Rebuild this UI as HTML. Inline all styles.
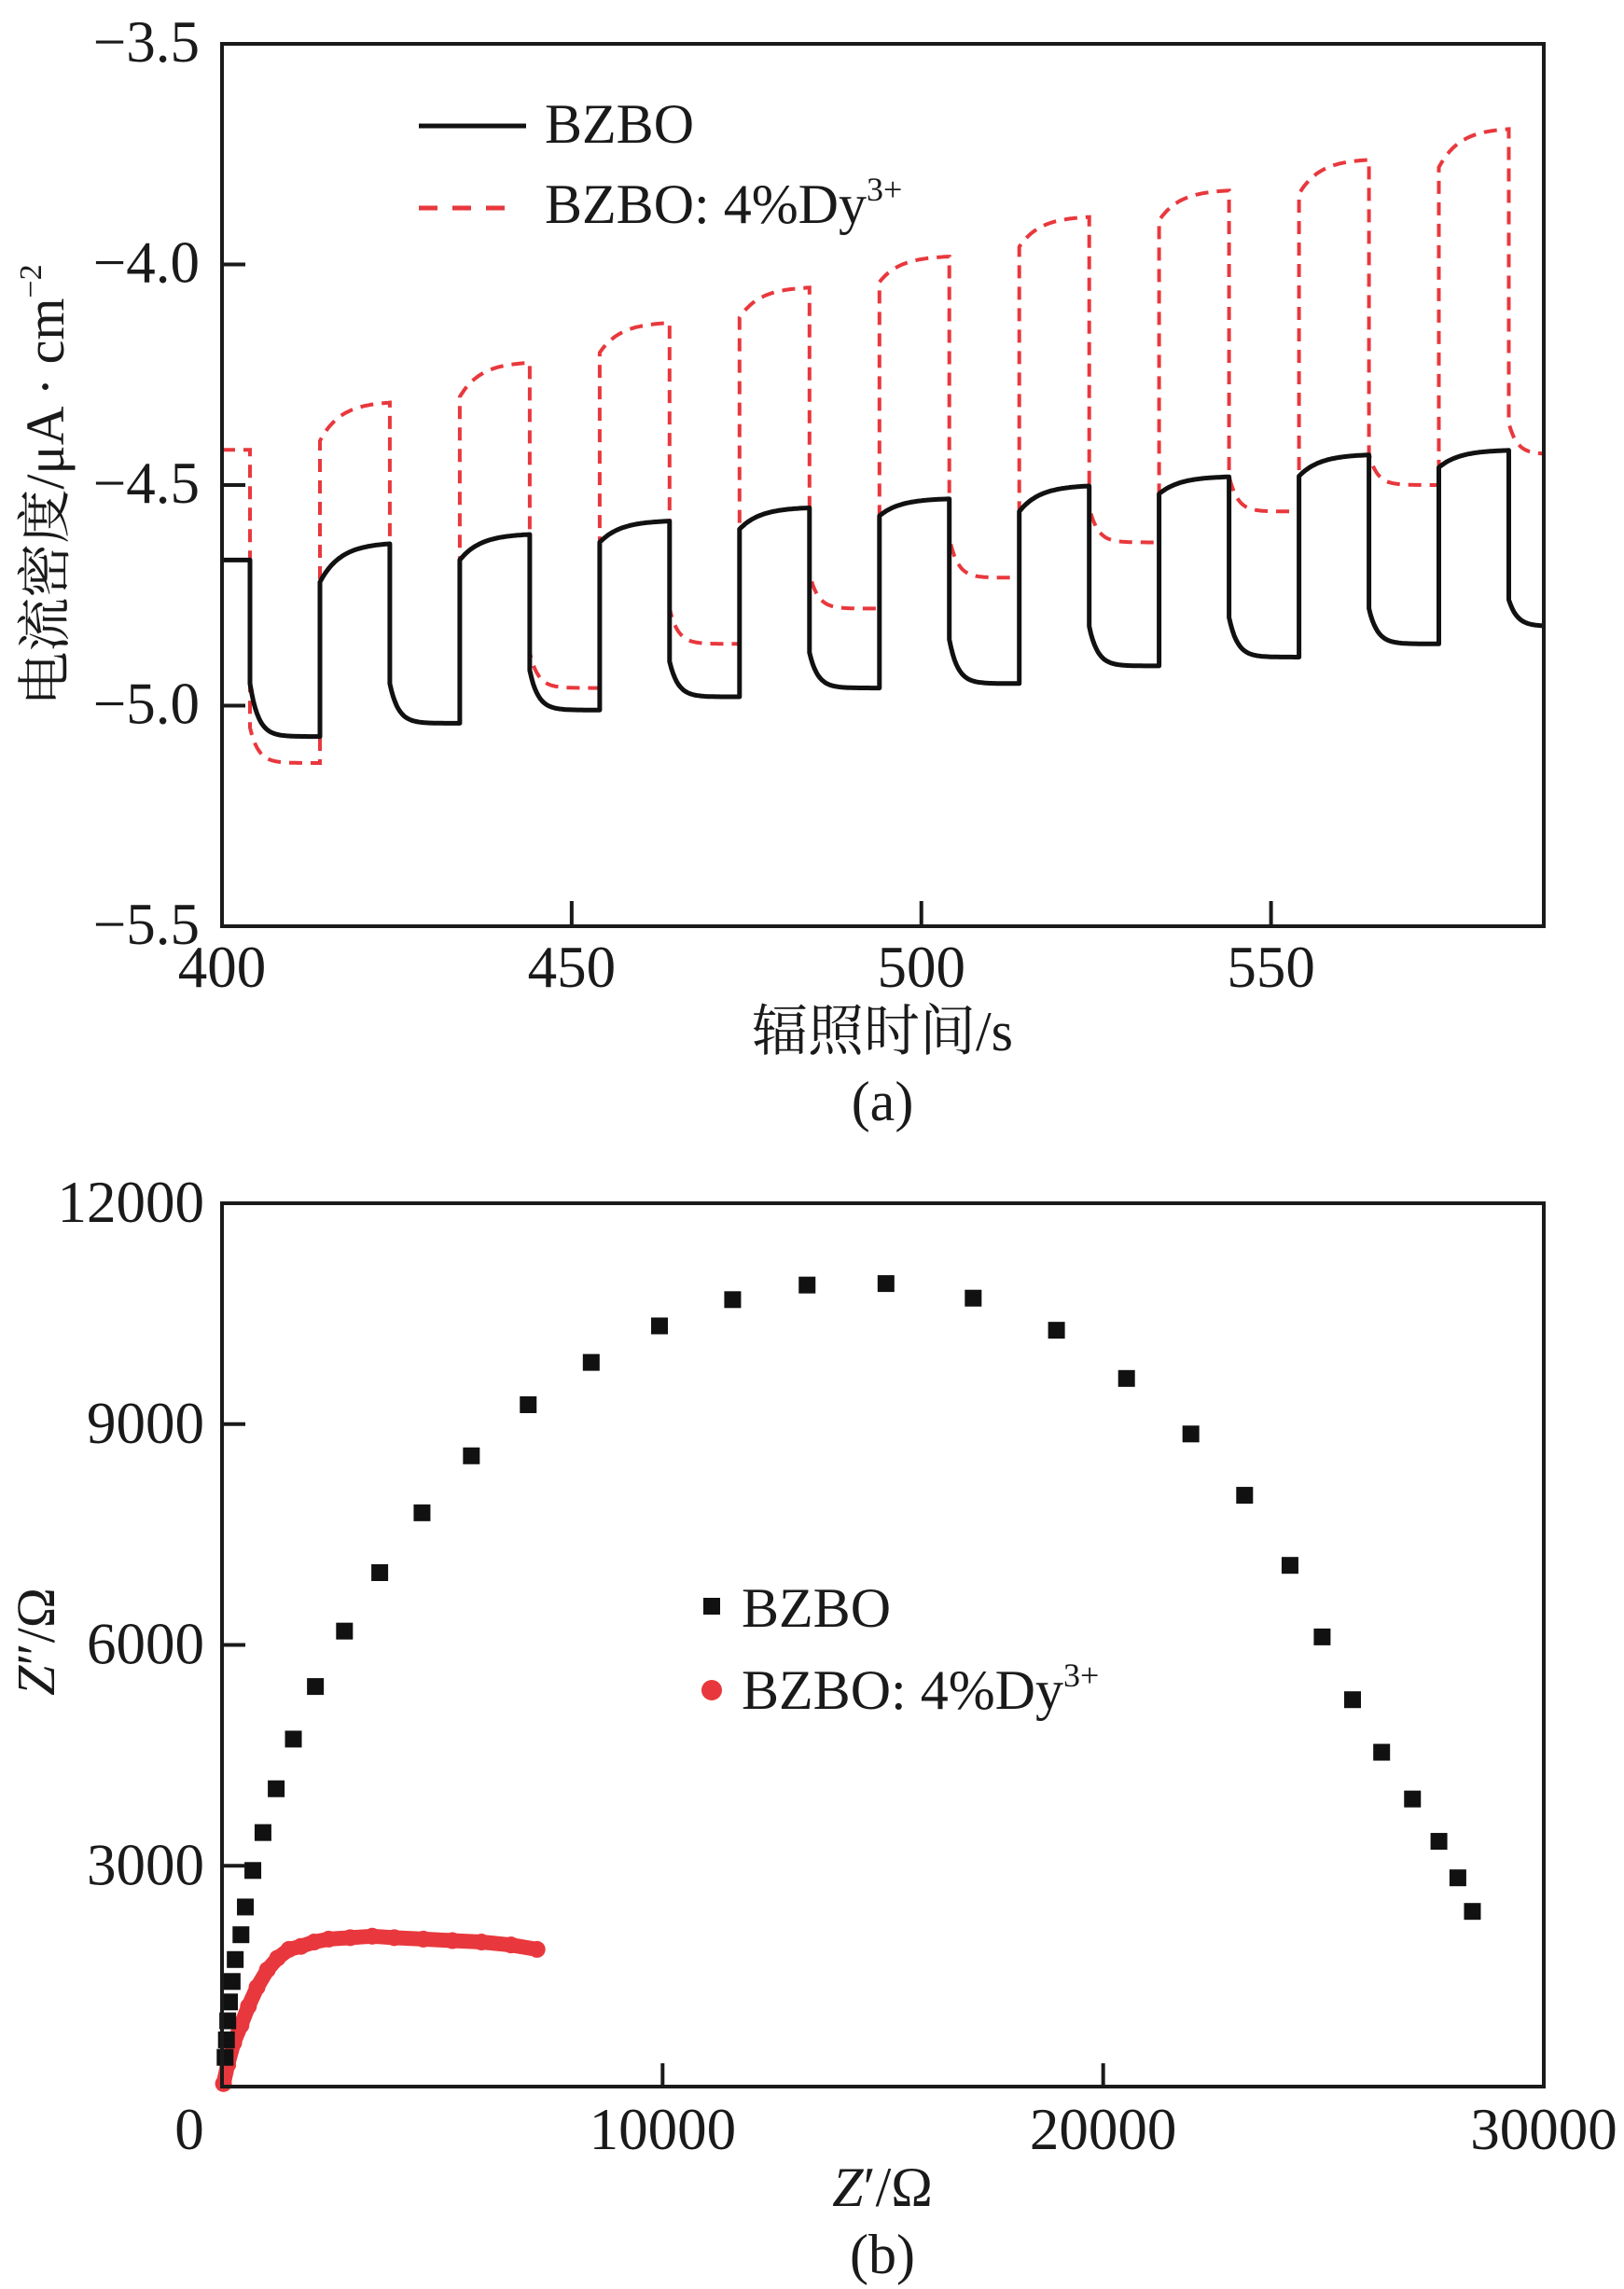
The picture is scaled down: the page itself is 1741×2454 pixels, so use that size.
<!DOCTYPE html>
<html><head><meta charset="utf-8">
<style>
html,body{margin:0;padding:0;background:#fff;}
svg{display:block;}
text{font-family:"Liberation Serif","Noto Serif CJK SC","Noto Sans CJK SC",serif;fill:#1a1a1a;}
</style></head>
<body>
<svg id="fig" width="1741" height="2454" viewBox="0 0 1741 2454" xmlns="http://www.w3.org/2000/svg">
  <rect width="1741" height="2454" fill="#fff"/>
  <g id="panelA"></g>
  <g id="panelB"></g>
</svg>
<script>
// ---------- Panel (a) data ----------
const aSwitchTimes = [404,414,424,434,444,454,464,474,484,494,504,514,524,534,544,554,564,574,584];
const aXTicks = [400,450,500,550];
const aYTicks = [-3.5,-4.0,-4.5,-5.0,-5.5];
const aYTickLabels = ["\u22123.5","\u22124.0","\u22124.5","\u22125.0","\u22125.5"];
// per segment: value right after switch, value at end of segment
const blackJump = [-4.67,-4.95,-4.72,-4.95,-4.67,-4.92,-4.63,-4.90,-4.60,-4.88,-4.57,-4.85,-4.56,-4.82,-4.52,-4.80,-4.48,-4.78,-4.46,-4.76];
const blackEnd  = [-4.67,-5.07,-4.63,-5.04,-4.61,-5.01,-4.58,-4.98,-4.55,-4.96,-4.53,-4.95,-4.50,-4.91,-4.48,-4.89,-4.43,-4.86,-4.42,-4.82];
const redJump = [-4.42,-5.05,-4.40,-4.95,-4.30,-4.88,-4.20,-4.78,-4.12,-4.70,-4.04,-4.62,-3.96,-4.55,-3.90,-4.48,-3.84,-4.43,-3.78,-4.36];
const redEnd  = [-4.42,-5.13,-4.31,-5.04,-4.22,-4.96,-4.13,-4.86,-4.05,-4.78,-3.98,-4.71,-3.89,-4.63,-3.83,-4.56,-3.76,-4.50,-3.69,-4.43];

// ---------- Panel (b) data ----------
const bzboZre = [70,100,130,170,230,300,430,530,700,930,1230,1620,2120,2780,3580,4540,5660,6950,8380,9930,11590,13280,15070,17050,18940,20530,21990,23210,24240,24970,25660,26320,27020,27620,28050,28380];
const bzboZim = [397,635,893,1150,1428,1726,2063,2440,2936,3451,4046,4721,5435,6188,6982,7795,8569,9263,9838,10334,10691,10889,10909,10711,10275,9620,8866,8033,7081,6109,5256,4542,3907,3332,2836,2380];
const dyZre = [33,130,265,430,600,795,1030,1260,1520,1790,2090,2420,2910,3410,3910,4570,5230,5890,6560,7150];
const dyZim = [40,298,595,833,1091,1349,1587,1745,1864,1904,1964,2003,2023,2043,2023,2003,1983,1964,1924,1864];
const bXTicks = [0,10000,20000,30000];
const bXTickLabels = ["0","10000","20000","30000"];
const bYTicks = [3000,6000,9000,12000];
const bYTickLabels = ["3000","6000","9000","12000"];

const NS = "http://www.w3.org/2000/svg";
function mk(tag, attrs, parent){
  const e = document.createElementNS(NS, tag);
  for (const k in attrs) e.setAttribute(k, attrs[k]);
  parent.appendChild(e);
  return e;
}

// ===== Panel A =====
const A = document.getElementById('panelA');
const aL=238, aR=1655, aT=47, aB=993;
const ax = t => aL + (t-400)/189*(aR-aL);
const ay = v => aT + (-3.5 - v)/2*(aB-aT);

function seriesPoints(jump, end){
  const bounds = [400].concat(aSwitchTimes).concat([589]);
  let pts = [];
  for (let s=0; s<jump.length; s++){
    const t0 = bounds[s], t1 = bounds[s+1];
    const dark = (s%2===1);
    const tau = dark ? 1.2 : 3.0;
    for (let t=t0; t<=t1+1e-6; t+=0.25){
      const v = end[s] + (jump[s]-end[s])*Math.exp(-(t-t0)/tau);
      pts.push(ax(t).toFixed(1)+","+ay(v).toFixed(1));
    }
  }
  return pts.join(" ");
}

const redLine = mk('polyline',{points:seriesPoints(redJump, redEnd),fill:'none',stroke:'#e8383d','stroke-width':4,'stroke-dasharray':'14 9'},A);


const blackLine = mk('polyline',{points:seriesPoints(blackJump, blackEnd),fill:'none',stroke:'#111','stroke-width':5,'stroke-linejoin':'round'},A);



const frameA = mk('rect',{x:aL,y:aT,width:aR-aL,height:aB-aT,fill:'none',stroke:'#1a1a1a','stroke-width':4},A);



aXTicks.forEach(t=>{
  if (t>400){
    const tk = mk('line',{x1:ax(t),x2:ax(t),y1:aB,y2:aB-27,stroke:'#1a1a1a','stroke-width':4},A);
    
    
  }
  const lb = mk('text',{x:ax(t),y:1058,'font-size':63,'text-anchor':'middle'},A);
  lb.textContent = String(t);
  
  
});
aYTicks.forEach((v,i)=>{
  if (i>0 && i<aYTicks.length-1){
    const tk = mk('line',{x1:aL,x2:aL+25,y1:ay(v),y2:ay(v),stroke:'#1a1a1a','stroke-width':4},A);
    
    
  }
  const lb = mk('text',{x:214,y:ay(v)+19,'font-size':63,'text-anchor':'end'},A);
  lb.textContent = aYTickLabels[i];
  
  
});

// legend a
let e;
e = mk('line',{x1:449,x2:564,y1:135,y2:135,stroke:'#111','stroke-width':5},A);


e = mk('text',{x:584,y:153,'font-size':60},A);
e.textContent='BZBO';


e = mk('line',{x1:449,x2:545,y1:223,y2:223,stroke:'#e8383d','stroke-width':5,'stroke-dasharray':'20 16'},A);


e = mk('text',{x:584,y:239,'font-size':60},A);
e.innerHTML='BZBO: 4%Dy<tspan font-size="36" dy="-24">3+</tspan>';



// axis titles a
e = mk('text',{x:946,y:1126,'font-size':60,'text-anchor':'middle'},A);
e.textContent='辐照时间/s';


e = mk('text',{x:946,y:1201,'font-size':60,'text-anchor':'middle'},A);
e.textContent='(a)';


e = mk('text',{x:0,y:0,'font-size':58,'text-anchor':'middle',transform:'translate(68,520) rotate(-90)'},A);
e.innerHTML='电流密度/μA · cm<tspan font-size="34" dy="-24">−2</tspan>';



// ===== Panel B =====
const B = document.getElementById('panelB');
const bL=238, bR=1655, bT=1290, bB=2237;
const bx = z => bL + z/30000*(bR-bL);
const by = z => bB - z/12000*(bB-bT);

const dyPts = dyZre.map((z,i)=>bx(z).toFixed(1)+","+by(dyZim[i]).toFixed(1)).join(" ");
e = mk('polyline',{points:dyPts,fill:'none',stroke:'#e8383d','stroke-width':16,'stroke-linejoin':'round','stroke-linecap':'round'},B);


dyZre.forEach((z,i)=>{
  const c = mk('circle',{cx:bx(z),cy:by(dyZim[i]),r:9,fill:'#e8383d'},B);
  
  
});
bzboZre.forEach((z,i)=>{
  const s = mk('rect',{x:bx(z)-9,y:by(bzboZim[i])-9,width:18,height:18,fill:'#111'},B);
  
  
});

const frameB = mk('rect',{x:bL,y:bT,width:bR-bL,height:bB-bT,fill:'none',stroke:'#1a1a1a','stroke-width':4},B);



bXTicks.forEach((z,i)=>{
  if (i>0 && i<bXTicks.length-1){
    const tk = mk('line',{x1:bx(z),x2:bx(z),y1:bB,y2:bB-25,stroke:'#1a1a1a','stroke-width':4},B);
    
    
  }
  const xx = i===0 ? 203 : bx(z);
  const lb = mk('text',{x:xx,y:2304,'font-size':63,'text-anchor':'middle'},B);
  lb.textContent = bXTickLabels[i];
  
  
});
bYTicks.forEach((z,i)=>{
  if (i<bYTicks.length-1){
    const tk = mk('line',{x1:bL,x2:bL+25,y1:by(z),y2:by(z),stroke:'#1a1a1a','stroke-width':4},B);
    
    
  }
  const lb = mk('text',{x:219,y:by(z)+20,'font-size':63,'text-anchor':'end'},B);
  lb.textContent = bYTickLabels[i];
  
  
});

// legend b
e = mk('rect',{x:754,y:1713,width:18,height:18,fill:'#111'},B);


e = mk('text',{x:795,y:1744,'font-size':60},B);
e.textContent='BZBO';


e = mk('circle',{cx:763,cy:1812,r:11,fill:'#e8383d'},B);


e = mk('text',{x:795,y:1832,'font-size':60},B);
e.innerHTML='BZBO: 4%Dy<tspan font-size="36" dy="-24">3+</tspan>';



// axis titles b
e = mk('text',{x:946,y:2365,'font-size':60,'text-anchor':'middle'},B);
e.innerHTML='<tspan font-style="italic">Z</tspan>′/Ω';


e = mk('text',{x:946,y:2437,'font-size':60,'text-anchor':'middle'},B);
e.textContent='(b)';


e = mk('text',{x:0,y:0,'font-size':58,'text-anchor':'middle',transform:'translate(58,1760) rotate(-90)'},B);
e.innerHTML='<tspan font-style="italic">Z</tspan>″/Ω';


</script>
</body></html>
